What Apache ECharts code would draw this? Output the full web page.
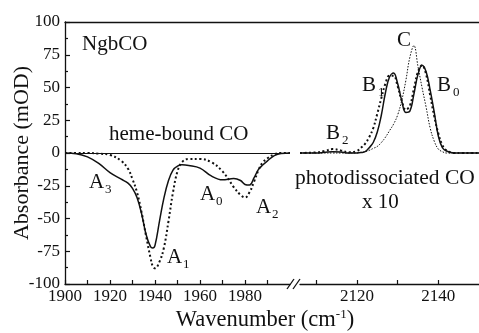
<!DOCTYPE html>
<html><head><meta charset="utf-8">
<script src="https://cdn.jsdelivr.net/npm/echarts@6/dist/echarts.min.js"></script>
<style>html,body{margin:0;padding:0;background:#fff}#c{width:479px;height:333px}</style>
</head><body><div id="c"></div>
<script>
// ---- data ----
const leftX = [1900,1905,1910,1915,1920,1925,1928,1930,1932,1934,1936,1938,1939,1940,1942,1944,1946,1948,1950,1952,1955,1960,1965,1970,1975,1978,1980,1982,1984,1986,1988,1990,1993,1996,2000];
const leftSolid = [0,-0.5,-3,-8,-15,-20,-23,-27,-34,-46,-62,-71.5,-72.5,-70.5,-52,-34,-21,-13,-10,-9,-9.5,-11.5,-17.5,-20.5,-19.5,-21,-24,-24.5,-19,-12.5,-9,-6,-2,-0.3,0];
const leftDotted = [0,0,0,-0.5,-1.5,-6,-12,-20,-30,-45,-63,-80,-86.5,-88,-83,-72,-52,-30,-14,-7,-4.5,-4.5,-7,-14,-26,-32,-34,-30,-22,-13,-7,-4,-1,0,0];
const rightX = [2106,2110,2112,2114,2116,2118,2120,2121,2122,2123,2124,2125,2126,2127,2128,2129,2130,2131,2132,2133,2134,2135,2136,2137,2138,2139,2140,2141,2142,2144,2146,2150];
const rightSolid = [0,0,0.5,1,0.8,0,0,0.3,1,4,8,16,29,46,58,61,53,40,31,32,45,60,67,62,48,31,13,4,1.5,0,0,0];
const rightDotted = [0,0.5,1.5,3,2,0.5,1.5,4,7,12,19,30,42,53,59,59,51,40,33,36,49,62,67,60,44,28,15,6,2,0,0,0];
const rightThin = [0,0,0,0,0,0,0,0.5,1,2,3.5,5,8,12,17,22,29,40,55,73,82,66,50,35,19,9,3,1,0,0,0,0];
const yTicks = [-100,-75,-50,-25,0,25,50,75,100];
const leftLabels = [1900,1920,1940,1960,1980];
const leftTicks = [1900,1910,1920,1930,1940,1950,1960,1970,1980,1990];
const rightLabels = [2120,2140];
const rightTicks = [2110,2120,2130,2140];

const zip = (xs, ys) => xs.map((x, i) => [x, ys[i]]);
const FONT = '"Liberation Serif","DejaVu Serif",serif';
const INK = '#111';

const chart = echarts.init(document.getElementById('c'), null, {renderer: 'canvas'});

function xAxisCommon(min, max, labels, ticks, gi) {
  return {
    type: 'value', gridIndex: gi, min: min, max: max, interval: 10,
    axisLine: {show: true, onZero: false, lineStyle: {color: INK, width: 1.3}},
    axisTick: {show: true, inside: true, length: 4, customValues: ticks, lineStyle: {color: INK, width: 1.2}},
    axisLabel: {show: true, customValues: labels, margin: 4, color: INK, fontFamily: FONT, fontSize: 17,
                showMinLabel: true, showMaxLabel: true, formatter: v => String(v)},
    splitLine: {show: false}
  };
}

const text = (x, y, t, size, extra) => Object.assign({
  type: 'text', x: x, y: y,
  style: {text: t, fontFamily: FONT, fontSize: size, fill: INK, textAlign: 'left', textVerticalAlign: 'middle'}
}, extra || {});

function sub(x, y, main, s) {
  return [text(x, y, main, 21), text(x + 16, y + 8, s, 13)];
}

const option = {
  backgroundColor: '#fff',
  animation: false,
  grid: [
    {left: 65, width: 225, top: 22, bottom: 49},
    {left: 300, right: 0, top: 22, bottom: 49},
    {left: 65, right: 0, top: 22, bottom: 49}
  ],
  xAxis: [
    xAxisCommon(1900, 2000, leftLabels, leftTicks, 0),
    xAxisCommon(2106, 2150, rightLabels, rightTicks, 1),
    {type: 'value', gridIndex: 2, min: 0, max: 1, position: 'top',
     axisLine: {show: true, onZero: false, lineStyle: {color: INK, width: 1.3}}, axisTick: {show: false}, axisLabel: {show: false}, splitLine: {show: false}}
  ],
  yAxis: [
    {type: 'value', gridIndex: 0, min: -100, max: 100, interval: 25,
     axisLine: {show: true, lineStyle: {color: INK, width: 1.3}},
     axisTick: {show: true, inside: true, length: 5, lineStyle: {color: INK, width: 1.2}},
     minorTick: {show: true, splitNumber: 2, length: 3, lineStyle: {color: INK, width: 1.2}},
     axisLabel: {color: INK, fontFamily: FONT, fontSize: 17, margin: 5, formatter: v => String(v)},
     splitLine: {show: false}},
    {type: 'value', gridIndex: 1, min: -100, max: 100, interval: 25, show: false},
    {type: 'value', gridIndex: 2, min: 0, max: 1, show: false}
  ],
  series: [
    {type: 'line', xAxisIndex: 0, yAxisIndex: 0, data: zip(leftX, leftSolid), smooth: 0.4, showSymbol: false,
     lineStyle: {color: INK, width: 1.5},
     markLine: {silent: true, symbol: 'none', label: {show: false}, lineStyle: {color: INK, width: 1.2, type: 'solid'}, data: [{yAxis: 0}]}},
    {type: 'line', xAxisIndex: 0, yAxisIndex: 0, data: zip(leftX, leftDotted), smooth: 0.4, showSymbol: false,
     lineStyle: {color: INK, width: 2, type: [2, 2.5]}},
    {type: 'line', xAxisIndex: 1, yAxisIndex: 1, data: zip(rightX, rightSolid), smooth: 0.4, showSymbol: false,
     lineStyle: {color: INK, width: 1.5}},
    {type: 'line', xAxisIndex: 1, yAxisIndex: 1, data: zip(rightX, rightDotted), smooth: 0.4, showSymbol: false,
     lineStyle: {color: INK, width: 2, type: [2, 2.5]}},
    {type: 'line', xAxisIndex: 1, yAxisIndex: 1, data: zip(rightX, rightThin), smooth: 0.4, showSymbol: false,
     lineStyle: {color: INK, width: 1, type: [1.5, 1.5]}}
  ],
  graphic: [
    {type: 'line', shape: {x1: 287, y1: 289, x2: 294, y2: 279}, style: {stroke: INK, lineWidth: 1.3}},
    {type: 'line', shape: {x1: 293, y1: 289, x2: 300, y2: 279}, style: {stroke: INK, lineWidth: 1.3}},
    text(82, 44, 'NgbCO', 21),
    text(109, 134, 'heme-bound CO', 21),
    text(295, 178, 'photodissociated CO', 21.5),
    text(362, 202, 'x 10', 21),
    ...sub(89, 182, 'A', '3'),
    ...sub(167, 257, 'A', '1'),
    ...sub(200, 194, 'A', '0'),
    ...sub(256, 207, 'A', '2'),
    ...sub(326, 133, 'B', '2'),
    ...sub(362, 85, 'B', '1'),
    text(397, 40, 'C', 21),
    ...sub(437, 85, 'B', '0'),
    {type: 'text', x: 22, y: 153, rotation: Math.PI / 2,
     style: {text: 'Absorbance (mOD)', fontFamily: FONT, fontSize: 22, fill: INK, textAlign: 'center', textVerticalAlign: 'middle'}},
    {type: 'text', x: 265, y: 320,
     style: {text: '{n|Wavenumber (cm}{s|-1}{n|)}', fontFamily: FONT, fill: INK, textAlign: 'center', textVerticalAlign: 'middle',
       rich: {n: {fontFamily: FONT, fontSize: 22.5, lineHeight: 24, verticalAlign: 'bottom', fill: INK},
              s: {fontFamily: FONT, fontSize: 13, lineHeight: 13, verticalAlign: 'top', fill: INK}}}}
  ]
};
chart.setOption(option);
</script>
</body></html>
